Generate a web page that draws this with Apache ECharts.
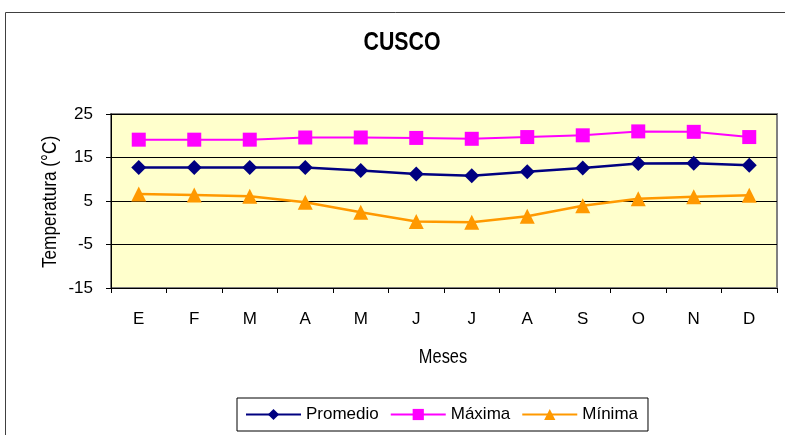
<!DOCTYPE html>
<html>
<head>
<meta charset="utf-8">
<script src="https://cdn.jsdelivr.net/npm/echarts@6/dist/echarts.min.js"></script>
<style>
html, body { margin: 0; padding: 0; background: #fff; }
#chart { width: 785px; height: 435px; }
</style>
</head>
<body>
<div id="chart"></div>
<script>
// Monthly temperatures for Cusco (°C)
var months = ['E', 'F', 'M', 'A', 'M', 'J', 'J', 'A', 'S', 'O', 'N', 'D'];
var promedio = [12.7, 12.7, 12.7, 12.7, 12.0, 11.2, 10.8, 11.7, 12.6, 13.6, 13.7, 13.2];
var maxima = [19.1, 19.1, 19.1, 19.6, 19.6, 19.5, 19.3, 19.7, 20.1, 21.0, 20.9, 19.7];
var minima = [6.6, 6.4, 6.1, 4.7, 2.4, 0.3, 0.1, 1.5, 3.9, 5.5, 6.0, 6.3];

var titleText = 'CUSCO';
var yName = 'Temperatura (°C)';
var xName = 'Meses';

var FONT = '"Liberation Sans", Arial, sans-serif';
// horizontal squeeze for a condensed look on the headline texts
var NARROW = 0.82;

var chart = echarts.init(document.getElementById('chart'));

chart.setOption({
  animation: false,
  backgroundColor: '#ffffff',
  textStyle: { fontFamily: FONT, color: '#000' },
  graphic: [
    {
      type: 'rect',
      shape: { x: 5.5, y: 12.5, width: 800, height: 440 },
      style: { fill: null, stroke: '#404040', lineWidth: 1 },
      silent: true,
      z: -1
    },
    {
      type: 'text',
      x: 402, y: 43,
      scaleX: NARROW,
      style: {
        text: titleText,
        font: 'bold 26px ' + FONT,
        fill: '#000',
        align: 'center',
        verticalAlign: 'middle'
      }
    },
    {
      type: 'text',
      x: 50, y: 202,
      rotation: Math.PI / 2,
      scaleX: NARROW,
      style: {
        text: yName,
        font: '21px ' + FONT,
        fill: '#000',
        align: 'center',
        verticalAlign: 'middle'
      }
    },
    {
      type: 'text',
      x: 443, y: 357,
      scaleX: NARROW,
      style: {
        text: xName,
        font: '20px ' + FONT,
        fill: '#000',
        align: 'center',
        verticalAlign: 'middle'
      }
    }
  ],
  legend: {
    left: 237,
    top: 398,
    padding: [8, 10, 8, 8],
    itemGap: 11,
    itemWidth: 55,
    itemHeight: 14,
    borderColor: '#000',
    borderWidth: 1,
    backgroundColor: '#fff',
    textStyle: { fontFamily: FONT, fontSize: 17, color: '#000' },
    data: ['Promedio', 'Máxima', 'Mínima']
  },
  grid: {
    left: 111,
    top: 114,
    right: 8,
    bottom: 147,
    show: true,
    backgroundColor: '#FFFFCC',
    borderColor: '#808080',
    borderWidth: 2
  },
  xAxis: {
    type: 'category',
    data: months,
    boundaryGap: true,
    axisLine: { onZero: false, lineStyle: { color: '#000', width: 1 } },
    axisTick: { show: true, alignWithLabel: false, length: 5, lineStyle: { color: '#000' } },
    axisLabel: { margin: 23, fontFamily: FONT, fontSize: 17, color: '#000' },
    splitLine: { show: false }
  },
  yAxis: {
    type: 'value',
    min: -15,
    max: 25,
    interval: 10,
    axisLine: { show: true, lineStyle: { color: '#000', width: 1 } },
    axisTick: { show: true, length: 5, lineStyle: { color: '#000' } },
    axisLabel: { margin: 18, fontFamily: FONT, fontSize: 17, color: '#000' },
    splitLine: { show: true, lineStyle: { color: '#000', width: 1 } }
  },
  series: [
    {
      name: 'Promedio',
      type: 'line',
      data: promedio,
      symbol: 'diamond',
      symbolSize: 15,
      itemStyle: { color: '#000080' },
      lineStyle: { color: '#000080', width: 2.5 },
      z: 4
    },
    {
      name: 'Máxima',
      type: 'line',
      data: maxima,
      symbol: 'rect',
      symbolSize: 14,
      itemStyle: { color: '#FF00FF' },
      lineStyle: { color: '#FF00FF', width: 2 },
      z: 3
    },
    {
      name: 'Mínima',
      type: 'line',
      data: minima,
      symbol: 'triangle',
      symbolSize: 15,
      itemStyle: { color: '#FF9900' },
      lineStyle: { color: '#FF9900', width: 2.5 },
      z: 3
    }
  ]
});
</script>
</body>
</html>
